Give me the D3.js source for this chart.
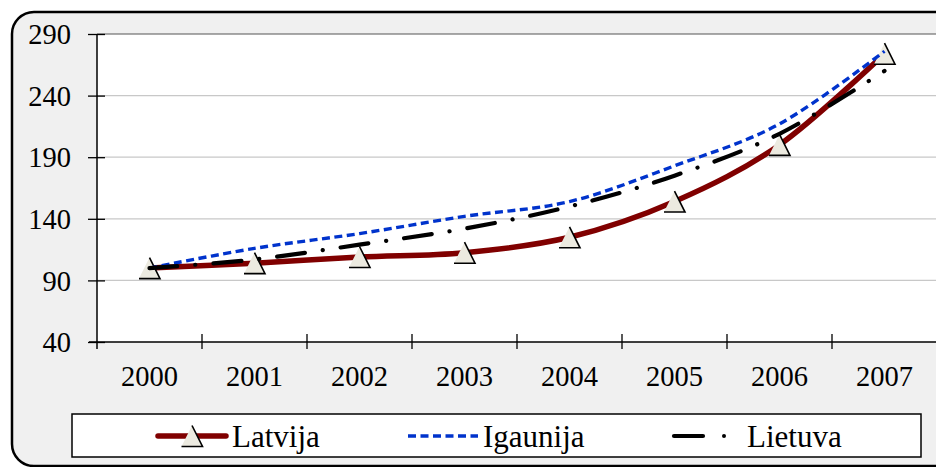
<!DOCTYPE html>
<html><head><meta charset="utf-8">
<script src="https://cdn.jsdelivr.net/npm/d3@7/dist/d3.min.js"></script>
<style>body{margin:0;background:#fff;} svg{display:block;}</style>
</head><body>
<script>
const years = ["2000","2001","2002","2003","2004","2005","2006","2007"];
const latvija = [100, 104, 109, 112.5, 125, 154, 200, 274];
const igaunija = [100, 116, 128, 142, 154, 183, 217, 276];
const lietuva = [100, 107, 119, 132, 150, 175, 209, 260];
const yTicks = [40, 90, 140, 190, 240, 290];
const seriesNames = ["Latvija", "Igaunija", "Lietuva"];

const W = 936, H = 467;
const svg = d3.select("body").append("svg").attr("width", W).attr("height", H);
const serif = '"Liberation Serif"';

svg.append("rect").attr("x", 12).attr("y", 12).attr("width", 950).attr("height", 454)
  .attr("rx", 22).attr("fill", "#f0f0f0").attr("stroke", "#000").attr("stroke-width", 2.5);

const L = 97, R = 937, T = 34, B = 342;
const x = d3.scaleBand().domain(years).range([L, R]).paddingInner(0).paddingOuter(0);
const xc = d => x(d) + x.bandwidth() / 2;
const y = d3.scaleLinear().domain([40, 290]).range([B, T]);

svg.append("rect").attr("x", L).attr("y", T).attr("width", R - L).attr("height", B - T).attr("fill", "#fff");

// gridlines
svg.append("g").selectAll("line").data(yTicks.slice(1)).join("line")
  .attr("x1", L).attr("x2", R).attr("y1", d => y(d)).attr("y2", d => y(d))
  .attr("stroke", d => d === 290 ? "#555" : "#c8c8c8").attr("stroke-width", 1.2);

// y axis
const yAxis = d3.axisLeft(y).tickValues(yTicks).tickSize(0).tickPadding(0);
const gy = svg.append("g").attr("transform", `translate(${L},0)`).call(yAxis);
gy.select(".domain").remove();
gy.selectAll("text").attr("x", -26).attr("dy", "0.34em").style("font-family", serif).attr("font-size", 28.5).attr("fill", "#000");
gy.selectAll(".tick").append("line").attr("x1", -9).attr("x2", 8).attr("stroke", "#000").attr("stroke-width", 1.3);
svg.append("line").attr("x1", L).attr("x2", L).attr("y1", T).attr("y2", B + 7).attr("stroke", "#000").attr("stroke-width", 1.5);

// x axis
svg.append("line").attr("x1", L - 8).attr("x2", R).attr("y1", B).attr("y2", B).attr("stroke", "#000").attr("stroke-width", 1.5);
const xAxis = d3.axisBottom(x).tickSize(0).tickPadding(0);
const gx = svg.append("g").attr("transform", `translate(0,${B})`).call(xAxis);
gx.select(".domain").remove();
gx.selectAll("text").attr("y", 44).attr("dy", 0).style("font-family", serif).attr("font-size", 28.5).attr("fill", "#000");
svg.append("g").selectAll("line").data(years.slice(1).concat(["end"])).join("line")
  .attr("x1", d => d === "end" ? R : x(d)).attr("x2", d => d === "end" ? R : x(d))
  .attr("y1", B - 8).attr("y2", B + 7).attr("stroke", "#000").attr("stroke-width", 1.3);

const line = d3.line().x((d, i) => xc(years[i])).y(d => y(d)).curve(d3.curveCardinal.tension(0));

function triangle(g, cx, cy) {
  const w = 21, h = 21;
  const p1 = [cx, cy - h / 2], p2 = [cx + w / 2, cy + h / 2], p3 = [cx - w / 2, cy + h / 2];
  g.append("path").attr("d", `M${p1}L${p2}L${p3}Z`).attr("fill", "#ECEAE0");
  g.append("path").attr("d", `M${p1}L${p2}L${p3}`).attr("fill", "none").attr("stroke", "#000").attr("stroke-width", 1.6);
}

// Latvija
svg.append("path").datum(latvija).attr("d", line).attr("fill", "none")
  .attr("stroke", "#800000").attr("stroke-width", 5.5).attr("stroke-linecap", "round");
const mk = svg.append("g");
latvija.forEach((v, i) => triangle(mk, xc(years[i]), y(v)));

// Igaunija
svg.append("path").datum(igaunija).attr("d", line).attr("fill", "none")
  .attr("stroke", "#0033CC").attr("stroke-width", 3.4).attr("stroke-dasharray", "8,4.5");

// Lietuva
svg.append("path").datum(lietuva).attr("d", line).attr("fill", "none")
  .attr("stroke", "#000").attr("stroke-width", 4.2).attr("stroke-linecap", "round")
  .attr("stroke-dasharray", "28,18,0.1,18");

// legend
svg.append("rect").attr("x", 72).attr("y", 414).attr("width", 849).attr("height", 43)
  .attr("fill", "#fff").attr("stroke", "#000").attr("stroke-width", 1.5);
const ly = 436;
svg.append("line").attr("x1", 158).attr("x2", 226).attr("y1", ly).attr("y2", ly)
  .attr("stroke", "#800000").attr("stroke-width", 5.5).attr("stroke-linecap", "round");
triangle(svg.append("g"), 192, ly);
svg.append("line").attr("x1", 408).attr("x2", 478).attr("y1", ly).attr("y2", ly)
  .attr("stroke", "#0033CC").attr("stroke-width", 3.4).attr("stroke-dasharray", "8,4.5");
svg.append("line").attr("x1", 674).attr("x2", 703).attr("y1", ly).attr("y2", ly)
  .attr("stroke", "#000").attr("stroke-width", 4.2).attr("stroke-linecap", "round");
svg.append("circle").attr("cx", 724).attr("cy", ly).attr("r", 2).attr("fill", "#000");
const lx = [232, 483, 747];
svg.append("g").selectAll("text").data(seriesNames).join("text")
  .attr("x", (d, i) => lx[i]).attr("y", 447).text(d => d)
  .style("font-family", serif).attr("font-size", 31).attr("fill", "#000");
</script>
</body></html>
